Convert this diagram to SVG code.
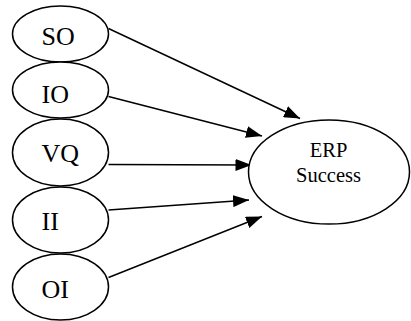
<svg xmlns="http://www.w3.org/2000/svg" width="411" height="321" viewBox="0 0 411 321">
  <style>
    .node ellipse { fill: #fff; stroke: #000; stroke-width: 1.5; }
    .node text { font-family: "Liberation Serif", "Times New Roman", serif; fill: #000; }
    .src text { font-size: 26px; }
    .sink text { font-size: 20.5px; text-anchor: middle; }
    .edges line { stroke: #000; stroke-width: 1.4; marker-end: url(#arrow); }
  </style>
  <defs>
    <marker id="arrow" markerUnits="userSpaceOnUse" markerWidth="16" markerHeight="12" refX="16" refY="6" orient="auto">
      <path d="M0,0 L16,6 L0,12 z" fill="#000"/>
    </marker>
  </defs>
  <rect width="411" height="321" fill="#fff"/>

  <!-- connectors: each factor points at the outcome -->
  <g class="edges">
    <line x1="108.5" y1="28.5" x2="300" y2="118.5"/>
    <line x1="108.5" y1="96.5" x2="262" y2="136"/>
    <line x1="108.5" y1="164.5" x2="251.5" y2="165"/>
    <line x1="108.5" y1="210" x2="249" y2="200"/>
    <line x1="108.5" y1="277.5" x2="262" y2="216.5"/>
  </g>

  <g id="SO" class="node src" font-family="Liberation Serif, serif">
    <ellipse cx="60.5" cy="34" rx="48" ry="28"/>
    <text x="41.5" y="45">SO</text>
  </g>
  <g id="IO" class="node src" font-family="Liberation Serif, serif">
    <ellipse cx="60.5" cy="90" rx="48" ry="28"/>
    <text x="41.5" y="102.5">IO</text>
  </g>
  <g id="VQ" class="node src" font-family="Liberation Serif, serif">
    <ellipse cx="60.5" cy="152.5" rx="48" ry="33.5"/>
    <text x="41.5" y="161.5">VQ</text>
  </g>
  <g id="II" class="node src" font-family="Liberation Serif, serif">
    <ellipse cx="60.5" cy="220" rx="48" ry="33"/>
    <text x="41.5" y="229.5">II</text>
  </g>
  <g id="OI" class="node src" font-family="Liberation Serif, serif">
    <ellipse cx="60.5" cy="287" rx="48" ry="33"/>
    <text x="41.5" y="297.5">OI</text>
  </g>

  <g id="ERP" class="node sink" font-family="Liberation Serif, serif">
    <ellipse cx="329" cy="172" rx="80.5" ry="52"/>
    <text x="328.5" y="157">ERP</text>
    <text x="328.5" y="181.5">Success</text>
  </g>
</svg>
